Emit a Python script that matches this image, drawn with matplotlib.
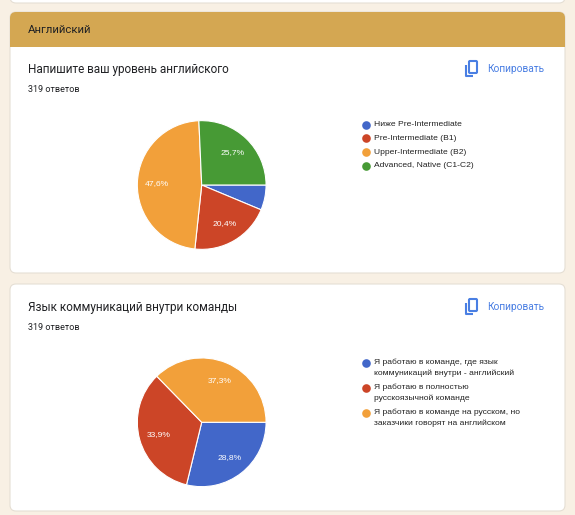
import matplotlib.pyplot as plt
import matplotlib.patches as patches

# data for the two pie charts
section_title = 'Английский'
answers_text = '319 ответов'
copy_text = 'Копировать'

q1_title = 'Напишите ваш уровень английского'
q1_labels = ['Ниже Pre-Intermediate', 'Pre-Intermediate (B1)',
             'Upper-Intermediate (B2)', 'Advanced, Native (C1-C2)']
q1_values = [6.3, 20.4, 47.6, 25.7]

q2_title = 'Язык коммуникаций внутри команды'
q2_labels = ['Я работаю в команде, где язык\nкоммуникаций внутри - английский',
             'Я работаю в полностью\nрусскоязычной команде',
             'Я работаю в команде на русском, но\nзаказчики говорят на английском']
q2_values = [28.8, 33.9, 37.3]

colors = ['#4267c9', '#cc4527', '#f2a03a', '#479a35']

W, H = 575, 515
fig = plt.figure(figsize=(W / 100, H / 100), dpi=100)
fig.patch.set_facecolor('#f8f0e4')

# background axes in pixel coordinates
bg = fig.add_axes([0, 0, 1, 1])
bg.set_xlim(0, W)
bg.set_ylim(H, 0)
bg.axis('off')


def card(y0, y1):
    box = patches.FancyBboxPatch((10, y0), 555, y1 - y0,
                                 boxstyle='round,pad=0,rounding_size=6',
                                 facecolor='white', edgecolor='#e5dfd4',
                                 linewidth=0.8, zorder=1)
    bg.add_patch(box)
    return box


card(-30, 3)
sec = card(12, 273)
# gold header of the section, clipped to the card shape
head = patches.Rectangle((10, 12), 555, 35, facecolor='#d4a752', edgecolor='none', zorder=2)
bg.add_patch(head)
head.set_clip_path(sec)
card(284, 511)

bg.text(28, 30, section_title, fontsize=8.2, family='Roboto', color='#202124',
        va='center', zorder=3)


def copy_button(y):
    # copy icon: back sheet outline and front sheet
    bg.plot([466, 466, 473], [y - 4, y + 7, y + 7], color='#4a7fe3', lw=1.5,
            solid_capstyle='butt', zorder=3)
    bg.add_patch(patches.FancyBboxPatch((469, y - 8), 8, 12,
                                        boxstyle='round,pad=0,rounding_size=1',
                                        facecolor='none', edgecolor='#4a7fe3',
                                        lw=1.5, zorder=3))
    bg.text(487, y, copy_text, fontsize=7.3, family='Roboto', color='#4a7fe3',
            va='center', zorder=3)


def question(y_title, title, labels, values, center_y, legend_y, line_h, item_h):
    bg.text(28, y_title, title, fontsize=8.45, family='Roboto', color='#202124',
            va='center', zorder=3)
    bg.text(28, y_title + 20, answers_text, fontsize=6.5, family='Roboto',
            color='#202124', va='center', zorder=3)
    copy_button(y_title - 1)

    cx, r = 201.7, 65
    pax = fig.add_axes([(cx - r) / W, (H - center_y - r) / H, 2 * r / W, 2 * r / H])
    pax.pie(values, colors=colors[:len(values)], startangle=0, counterclock=False,
            radius=1, pctdistance=0.7,
            autopct=lambda p: f'{p:.1f}%'.replace('.', ',') if p >= 10 else '',
            wedgeprops=dict(edgecolor='white', linewidth=0.8),
            textprops=dict(color='white', fontsize=6.1, family='Liberation Sans'))
    pax.set_xlim(-1.01, 1.01)
    pax.set_ylim(-1.01, 1.01)

    y = legend_y
    for label, col in zip(labels, colors):
        bg.plot(366, y, 'o', markersize=6.2, color=col, markeredgewidth=0, zorder=3)
        for i, line in enumerate(label.split('\n')):
            bg.text(374, y + i * line_h, line, fontsize=6.1, family='Liberation Sans',
                    color='#222222', va='center', zorder=3)
        y += item_h


question(70, q1_title, q1_labels, q1_values, 185, 124.7, 11.3, 13.7)
question(308, q2_title, q2_labels, q2_values, 422.3, 362.7, 11.0, 25.0)

fig.savefig('out.png', dpi=100, facecolor=fig.get_facecolor())
